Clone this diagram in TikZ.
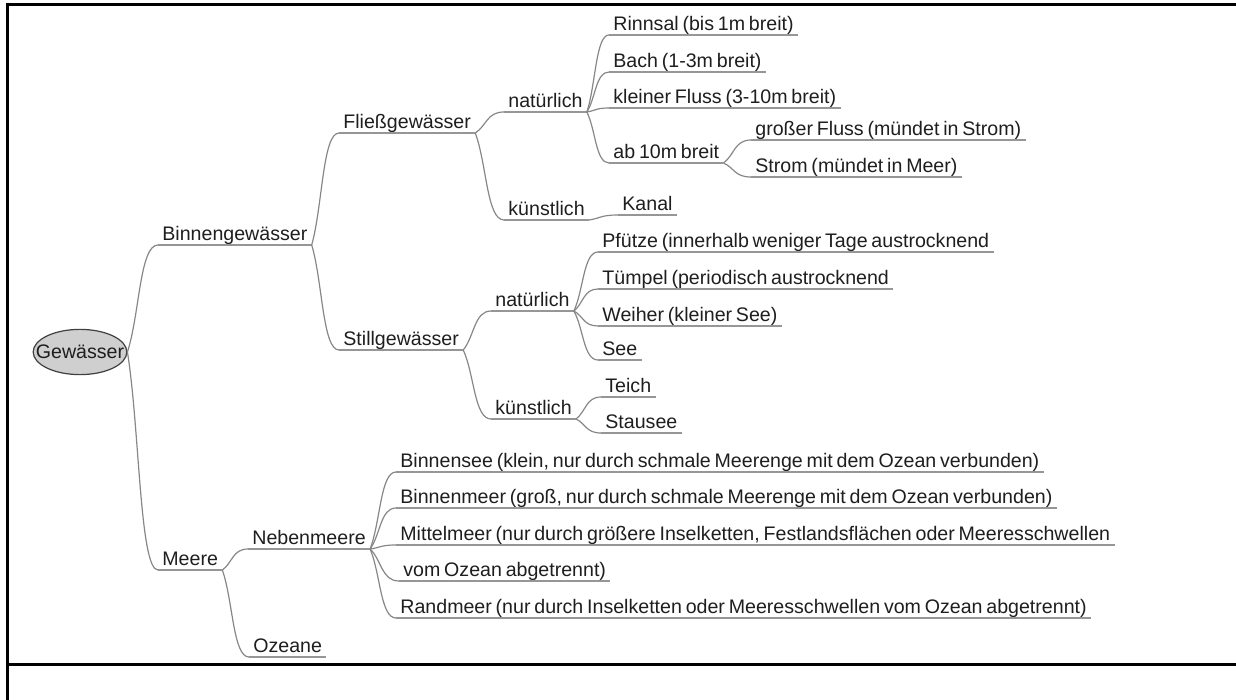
\documentclass[tikz,border=0pt]{standalone}
\usepackage{fontspec}
\setmainfont{Liberation Sans}[WordSpace=0.7]
\usetikzlibrary{calc,shapes.geometric}

\definecolor{linegray}{RGB}{135,135,135}
\definecolor{ulgray}{RGB}{150,150,150}
\definecolor{textgray}{RGB}{30,30,30}

\tikzset{
  uline/.style={draw=ulgray, line width=0.9pt},
  topic/.style={anchor=south west, inner xsep=2pt, inner ysep=0.6pt,
    text height=7.5pt, text depth=1.5pt, text=textgray,
    font=\fontsize{9.8pt}{12pt}\selectfont,
    append after command={(\tikzlastnode.south west) edge[uline] (\tikzlastnode.south east)}},
  rootnode/.style={ellipse, draw=black!75, fill=gray!38, line width=0.6pt,
    inner xsep=-5.5pt, inner ysep=3.5pt, text height=7.5pt, text depth=1.5pt,
    text=textgray, font=\fontsize{9.8pt}{12pt}\selectfont},
  branch/.style={draw=linegray, line width=0.6pt,
    to path={let \p1=(\tikztostart), \p2=(\tikztotarget) in
      .. controls ({\x1+0.4*(\x2-\x1)},{\y1+0.35*(\y2-\y1)})
      and ({\x1+0.4*(\x2-\x1)},\y2) .. (\tikztotarget)}}
}

\begin{document}
\begin{tikzpicture}[x=0.5pt, y=-0.5pt]
    \useasboundingbox (0,0) rectangle (1236,700);
    % frame
    \draw[line width=1.5pt] (1236,5) -- (7,5) -- (7,700) (7,664) -- (1236,664);

    \node[rootnode] (root) at (80,352) {Gewässer};

    \node[topic] (binnen) at (158,245) {Binnengewässer};
    \node[topic] (meere) at (158,570) {Meere};

    \node[topic] (fliess) at (339,133) {Fließgewässer};
    \node[topic] (still) at (339,350) {Stillgewässer};
    \node[topic] (neben) at (248,549) {Nebenmeere};
    \node[topic] (ozeane) at (249,657) {Ozeane};

    \node[topic] (fnat) at (504,112) {natürlich};
    \node[topic] (fkuen) at (504,220) {künstlich};
    \node[topic] (snat) at (491,311) {natürlich};
    \node[topic] (skuen) at (491,419) {künstlich};

    \node[topic] (rinnsal) at (609,35) {Rinnsal (bis 1m breit)};
    \node[topic] (bach) at (609,72) {Bach (1-3m breit)};
    \node[topic] (kfluss) at (609,108) {kleiner Fluss (3-10m breit)};
    \node[topic] (abzehn) at (609,163) {ab 10m breit};
    \node[topic] (gfluss) at (751,140) {großer Fluss (mündet in Strom)};
    \node[topic] (strom) at (751,177) {Strom (mündet in Meer)};
    \node[topic] (kanal) at (618,215) {Kanal};

    \node[topic] (pfuetze) at (598,252) {Pfütze (innerhalb weniger Tage austrocknend};
    \node[topic] (tuempel) at (598,289) {Tümpel (periodisch austrocknend};
    \node[topic] (weiher) at (598,326) {Weiher (kleiner See)};
    \node[topic] (see) at (598,360) {See};
    \node[topic] (teich) at (601,397) {Teich};
    \node[topic] (stausee) at (601,433) {Stausee};

    \node[topic] (bsee) at (396,472) {Binnensee (klein, nur durch schmale Meerenge mit dem Ozean verbunden)};
    \node[topic] (bmeer) at (396,508) {Binnenmeer (groß, nur durch schmale Meerenge mit dem Ozean verbunden)};
    \node[topic] (mittel) at (396,545) {Mittelmeer (nur durch größere Inselketten, Festlandsflächen oder Meeresschwellen};
    \node[topic] (vom) at (399,581) {vom Ozean abgetrennt)};
    \node[topic] (rand) at (396,618) {Randmeer (nur durch Inselketten oder Meeresschwellen vom Ozean abgetrennt)};

    % branches
    \path (root.east) edge[branch] (binnen.south west)
                      edge[branch] (meere.south west);
    \path (binnen.south east) edge[branch] (fliess.south west)
                              edge[branch] (still.south west);
    \path (meere.south east) edge[branch] (neben.south west)
                             edge[branch] (ozeane.south west);
    \path (fliess.south east) edge[branch] (fnat.south west)
                              edge[branch] (fkuen.south west);
    \path (still.south east) edge[branch] (snat.south west)
                             edge[branch] (skuen.south west);
    \path (fnat.south east) edge[branch] (rinnsal.south west)
                            edge[branch] (bach.south west)
                            edge[branch] (kfluss.south west)
                            edge[branch] (abzehn.south west);
    \path (abzehn.south east) edge[branch] (gfluss.south west)
                              edge[branch] (strom.south west);
    \path (fkuen.south east) edge[branch] (kanal.south west);
    \path (snat.south east) edge[branch] (pfuetze.south west)
                            edge[branch] (tuempel.south west)
                            edge[branch] (weiher.south west)
                            edge[branch] (see.south west);
    \path (skuen.south east) edge[branch] (teich.south west)
                             edge[branch] (stausee.south west);
    \path (neben.south east) edge[branch] (bsee.south west)
                             edge[branch] (bmeer.south west)
                             edge[branch] (mittel.south west)
                             edge[branch] (vom.south west)
                             edge[branch] (rand.south west);
\end{tikzpicture}
\end{document}
